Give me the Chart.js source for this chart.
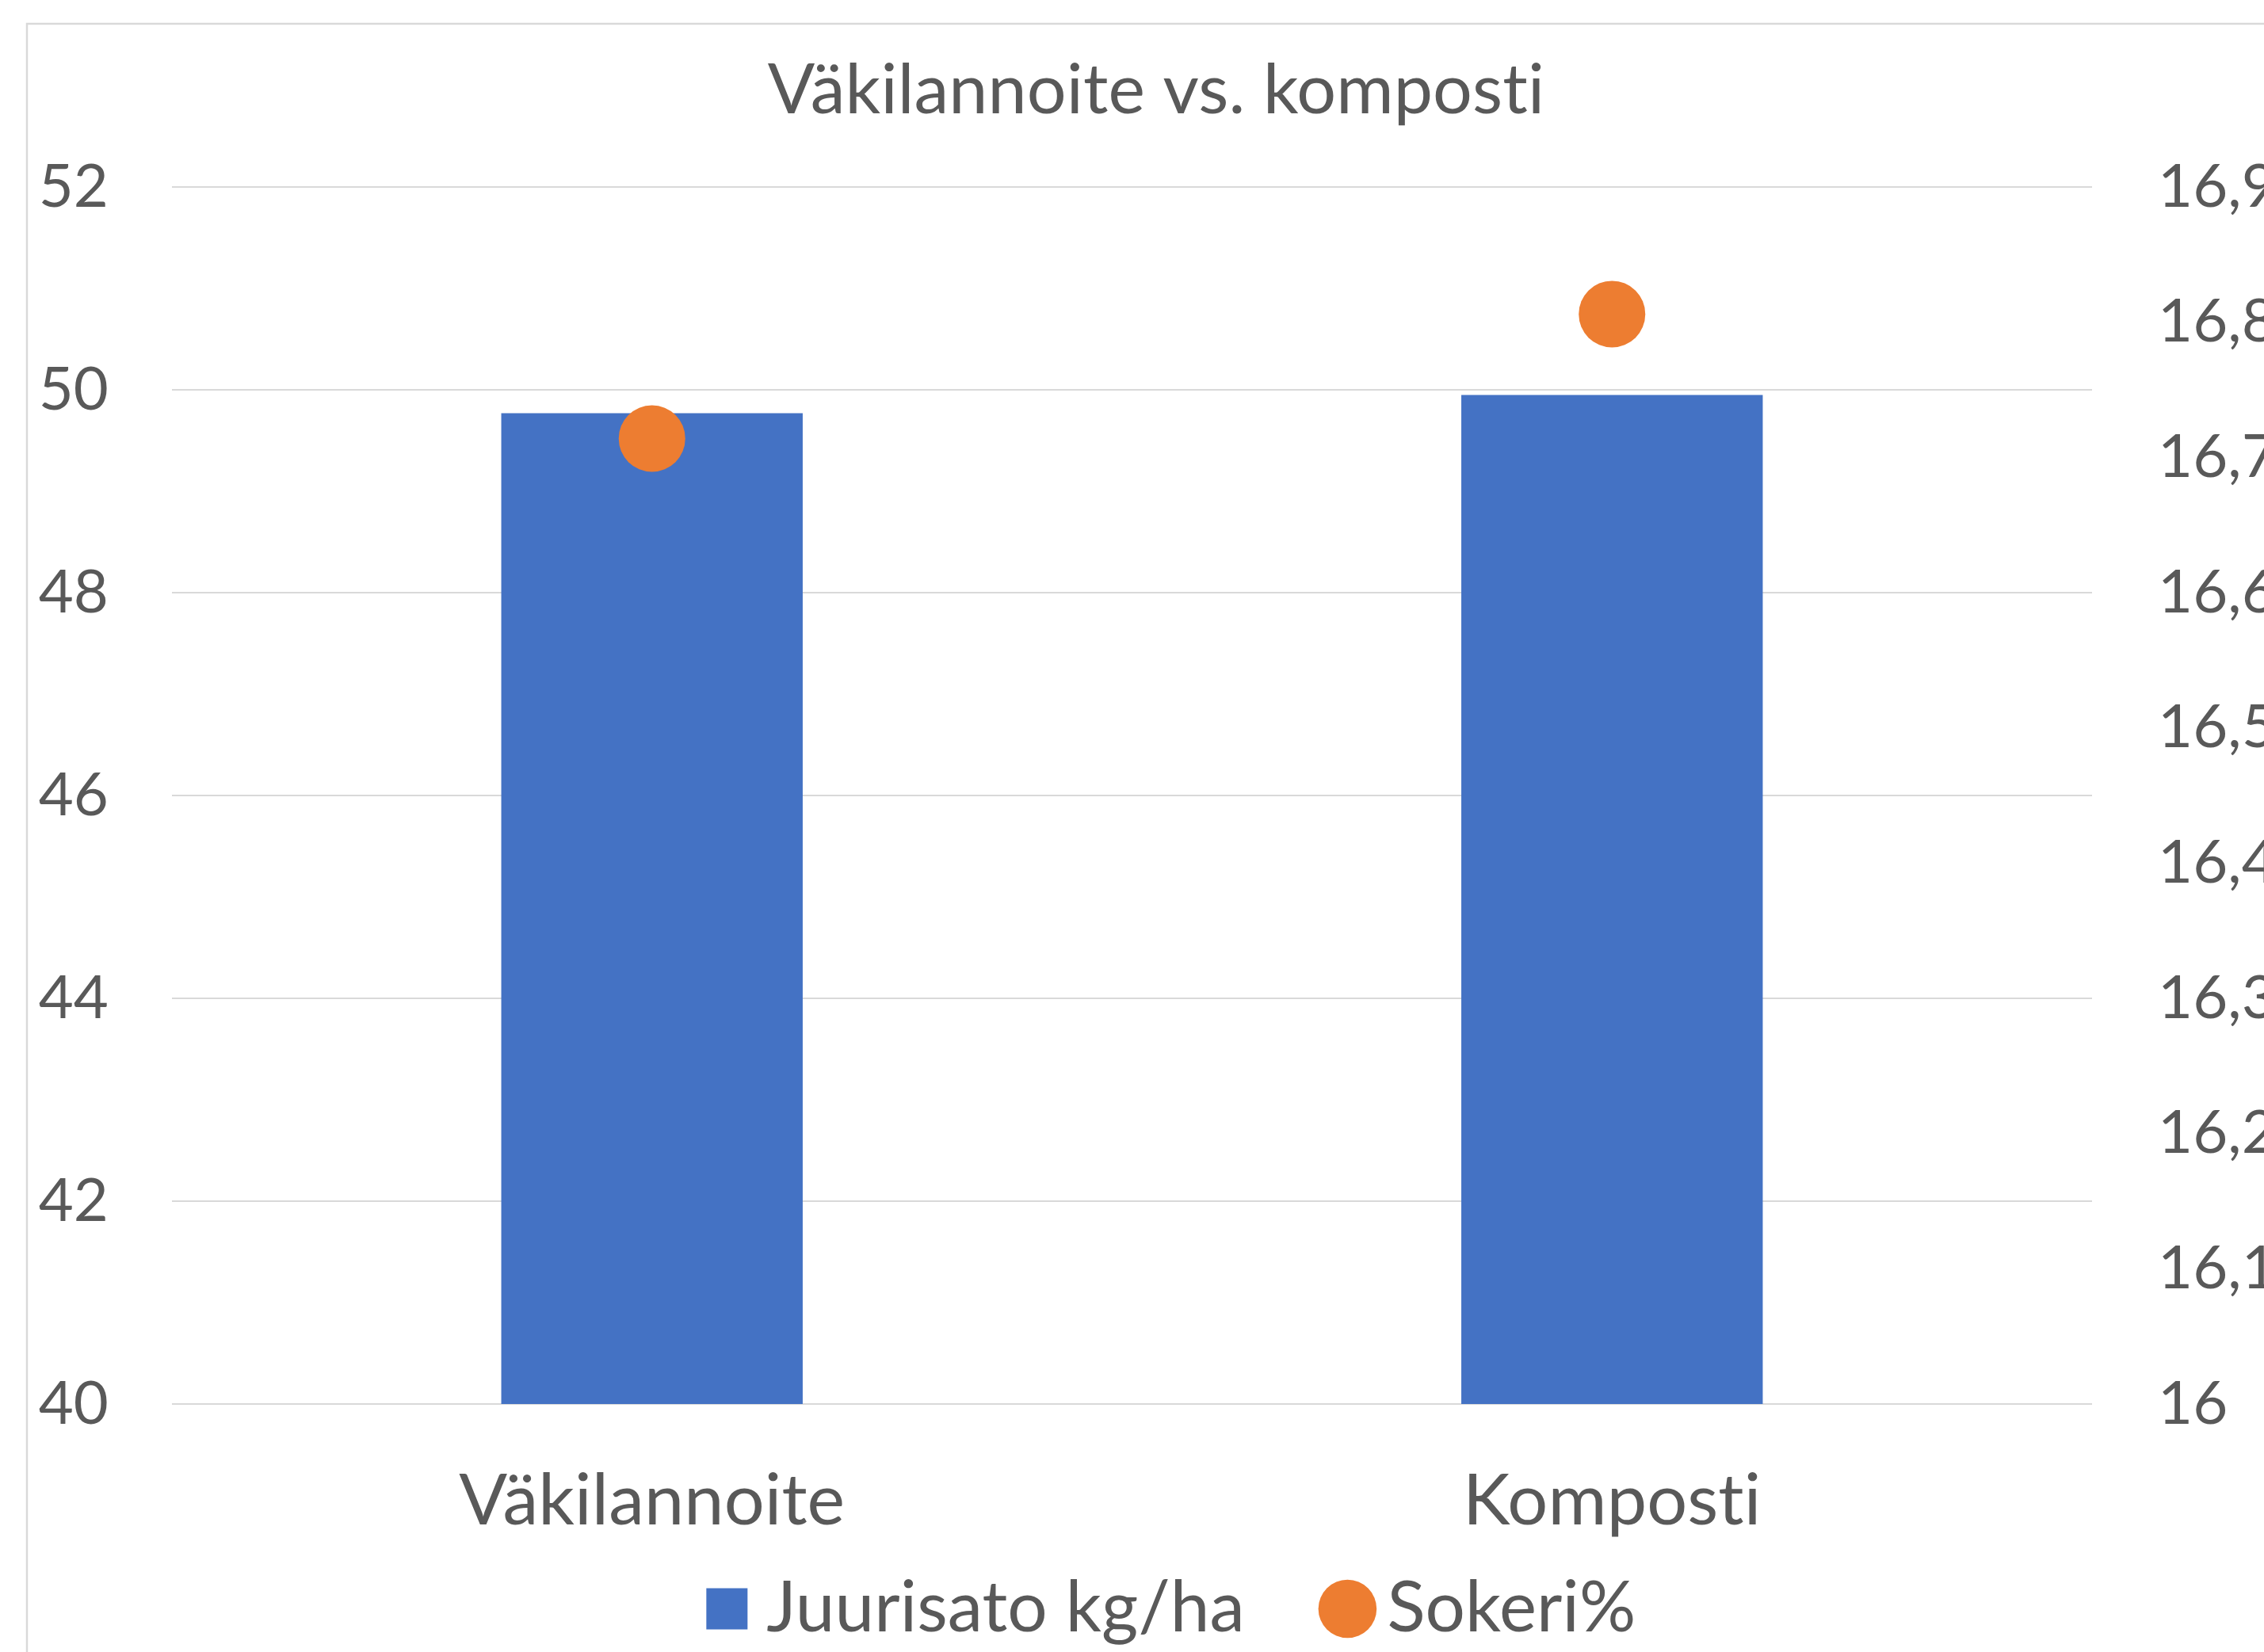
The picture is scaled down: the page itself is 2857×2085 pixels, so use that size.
<!DOCTYPE html>
<html>
<head>
<meta charset="utf-8">
<script src="https://cdn.jsdelivr.net/npm/chart.js@4/dist/chart.umd.min.js"></script>
<style>
  html, body { margin: 0; padding: 0; background: #ffffff; overflow: hidden; width: 2857px; height: 2085px; }
  #wrap { position: absolute; left: 0; top: 0; width: 2918px; height: 2085px; }
</style>
</head>
<body>
<div id="wrap"><canvas id="c" width="2918" height="2085"></canvas></div>
<script>
const chartTitle = 'Väkilannoite vs. komposti';
const categories = ['Väkilannoite', 'Komposti'];
const seriesNames = ['Juurisato kg/ha', 'Sokeri%'];
const juurisato = [49.77, 49.95];
const sokeri = [16.714, 16.806];
const leftTicks = [40, 42, 44, 46, 48, 50, 52];
const rightTicks = [16, 16.1, 16.2, 16.3, 16.4, 16.5, 16.6, 16.7, 16.8, 16.9];

const FONT = 'Lato, "Open Sans", sans-serif';
const TEXT = '#595959';

const frame = {
  id: 'frame',
  beforeDraw(chart) {
    const ctx = chart.ctx;
    // tiny letter spacing disables the "ti" ligature, like the reference font
    if ('letterSpacing' in ctx) ctx.letterSpacing = '0.1px';
    ctx.save();
    ctx.fillStyle = '#ffffff';
    ctx.fillRect(0, 0, chart.width, chart.height);
    ctx.strokeStyle = '#D9D9D9';
    ctx.lineWidth = 2.5;
    ctx.strokeRect(34, 30, 4000, 4000);
    ctx.restore();
  }
};

// nudge the legend row slightly right, as in the reference
const legendShift = {
  id: 'legendShift',
  afterLayout(chart) {
    if (chart.legend) {
      chart.legend.left += 28;
      chart.legend.right += 28;
    }
  }
};

function draw() {
  new Chart(document.getElementById('c'), {
    data: {
      labels: categories,
      datasets: [
        {
          type: 'bar',
          label: seriesNames[0],
          data: juurisato,
          backgroundColor: '#4472C4',
          borderWidth: 0,
          yAxisID: 'y',
          order: 2,
          categoryPercentage: 1,
          barPercentage: 0.314,
          pointStyle: 'rect'
        },
        {
          type: 'line',
          label: seriesNames[1],
          data: sokeri,
          showLine: false,
          pointStyle: 'circle',
          pointRadius: 42,
          pointHoverRadius: 42,
          pointBackgroundColor: '#ED7D31',
          pointBorderWidth: 0,
          backgroundColor: '#ED7D31',
          borderColor: '#ED7D31',
          yAxisID: 'y1',
          order: 1
        }
      ]
    },
    options: {
      responsive: false,
      animation: false,
      devicePixelRatio: 1,
      layout: { padding: { left: 0, right: 0, top: 0, bottom: 0 } },
      plugins: {
        title: {
          display: true,
          text: chartTitle,
          color: TEXT,
          font: { family: FONT, size: 88, weight: 'normal', lineHeight: 1.2 },
          padding: { top: 62, bottom: 68.4 }
        },
        legend: {
          display: true,
          position: 'bottom',
          labels: {
            usePointStyle: true,
            boxHeight: 52,
            boxWidth: 11,
            color: TEXT,
            font: { family: FONT, size: 89 },
            padding: 124,
            sort: (a, b) => a.datasetIndex - b.datasetIndex
          }
        },
        tooltip: { enabled: false }
      },
      scales: {
        x: {
          type: 'category',
          grid: { display: false, drawTicks: false },
          border: { display: false },
          ticks: { color: TEXT, font: { family: FONT, size: 90 }, padding: 69, maxRotation: 0 },
          afterFit(s) {
            s.height = 90;
            s._computeLabelArea = () => undefined;
          }
        },
        y: {
          type: 'linear',
          position: 'left',
          min: 40, max: 52,
          afterBuildTicks(s) { s.ticks = leftTicks.map(v => ({ value: v })); },
          grid: { color: '#D9D9D9', lineWidth: 2, drawTicks: false },
          border: { display: false },
          ticks: { color: TEXT, font: { family: FONT, size: 76 }, padding: 80 },
          afterFit(s) { s.width = 217; }
        },
        y1: {
          type: 'linear',
          position: 'right',
          min: 16, max: 16.9,
          afterBuildTicks(s) { s.ticks = rightTicks.map(v => ({ value: v })); },
          grid: { display: false, drawTicks: false },
          border: { display: false },
          ticks: {
            color: TEXT, font: { family: FONT, size: 76 }, padding: 83,
            callback: (v) => String(Math.round(v * 10) / 10).replace('.', ',')
          },
          afterFit(s) { s.width = 278; }
        }
      }
    },
    plugins: [frame, legendShift]
  });
}

if (document.fonts && document.fonts.load) {
  Promise.all([document.fonts.load('84px Lato')]).then(draw, draw);
} else {
  draw();
}
</script>
</body>
</html>
